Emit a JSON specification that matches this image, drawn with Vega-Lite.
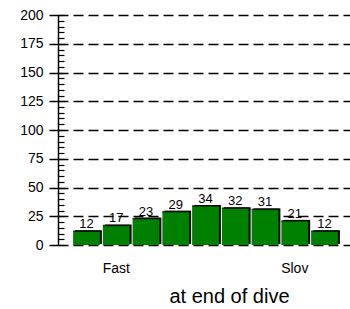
{
  "$schema": "https://vega.github.io/schema/vega-lite/v6.json",
  "width": 292,
  "height": 230,
  "autosize": "none",
  "padding": {"left": 58, "top": 15, "right": 0, "bottom": 64},
  "background": "white",
  "config": {"view": {"stroke": null}, "font": "Liberation Sans"},
  "data": {"values": [
    {"bin": 1, "count": 12},
    {"bin": 2, "count": 17},
    {"bin": 3, "count": 23},
    {"bin": 4, "count": 29},
    {"bin": 5, "count": 34},
    {"bin": 6, "count": 32},
    {"bin": 7, "count": 31},
    {"bin": 8, "count": 21},
    {"bin": 9, "count": 12}
  ]},
  "encoding": {
    "x": {
      "field": "bin", "type": "ordinal",
      "scale": {"paddingInner": 0.1, "paddingOuter": 0.457, "align": 0.555},
      "axis": {
        "title": "at end of dive", "titleFontSize": 20, "titleFontWeight": "normal", "titleColor": "black",
        "titleX": 171, "titleY": 41,
        "labelExpr": "datum.value == 2 ? 'Fast' : (datum.value == 8 ? 'Slov' : '')",
        "labelAngle": 0, "labelFontSize": 14, "labelColor": "black", "labelPadding": 16,
        "domain": false, "ticks": false, "grid": false
      }
    }
  },
  "layer": [
    {
      "mark": {"type": "bar", "color": "black", "xOffset": 2, "yOffset": -1},
      "encoding": {
        "y": {
          "field": "count", "type": "quantitative",
          "scale": {"domain": [0, 200], "nice": false},
          "axis": {
            "title": null, "values": [0, 25, 50, 75, 100, 125, 150, 175, 200],
            "labelFontSize": 14, "labelColor": "black", "labelPadding": 6,
            "tickSize": 9, "tickColor": "black", "tickWidth": 1.5,
            "domainColor": "black", "domainWidth": 1.5,
            "grid": true, "gridColor": "black", "gridDash": [10, 5], "gridWidth": 1.6, "gridOpacity": 1
          }
        }
      }
    },
    {
      "mark": {"type": "bar", "color": "#008000"},
      "encoding": {
        "y": {
          "field": "count", "type": "quantitative",
          "axis": {
            "title": null, "orient": "left", "labels": false, "domain": false, "grid": false,
            "values": [0,5,10,15,20,25,30,35,40,45,50,55,60,65,70,75,80,85,90,95,100,105,110,115,120,125,130,135,140,145,150,155,160,165,170,175,180,185,190,195,200],
            "tickSize": -6, "tickColor": "black", "tickWidth": 1.2
          }
        }
      }
    },
    {
      "mark": {"type": "tick", "color": "black", "thickness": 1.5, "bandSize": 14},
      "encoding": {"y": {"field": "count", "type": "quantitative", "axis": null}}
    },
    {
      "mark": {"type": "text", "dy": -7, "fontSize": 13, "color": "black"},
      "encoding": {
        "y": {"field": "count", "type": "quantitative", "axis": null},
        "text": {"field": "count", "type": "quantitative"}
      }
    }
  ],
  "resolve": {"axis": {"y": "independent"}}
}
